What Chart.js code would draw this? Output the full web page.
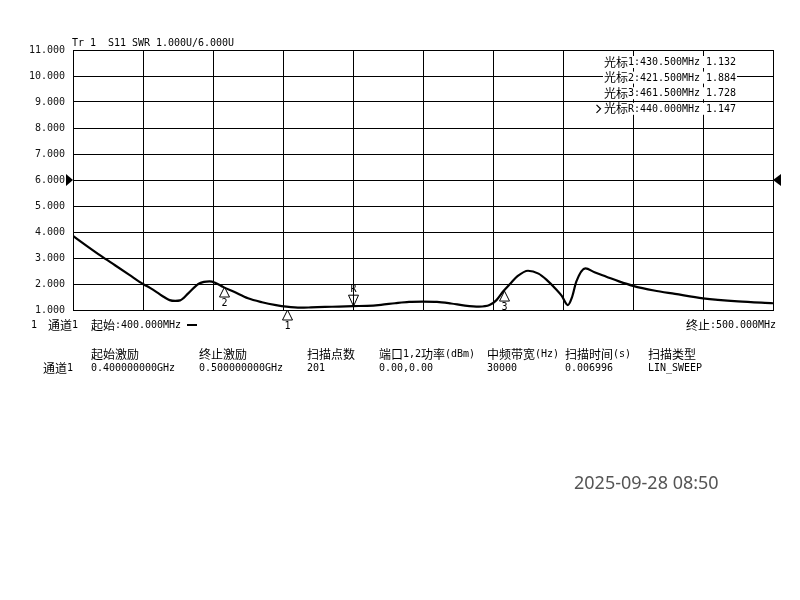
<!DOCTYPE html>
<html>
<head>
<meta charset="utf-8">
<script src="https://cdn.jsdelivr.net/npm/chart.js@4.4.1/dist/chart.umd.min.js"></script>
<style>
  body { margin: 0; background: #fff; }
  canvas { display: block; }
</style>
</head>
<body>
<canvas id="swr" width="800" height="600"></canvas>
<script>
// trace S11 SWR (MHz / SWR)
const freqs = [400, 402, 404, 406, 408, 410, 411, 412, 413, 413.8, 414.6, 415.3, 416.5, 417.9, 418.7, 419.5, 420.3, 421.5,
    423, 425, 427, 429, 430.5, 432.5, 434, 436, 438, 440, 442, 444, 446, 448, 450, 452, 454, 456, 458, 459.5, 460.5,
    461.5, 462.5, 463.5, 465, 466.5, 467.7, 469, 469.8, 470.7, 471.3, 471.9, 473.2, 474.5, 476.2, 478, 480, 483,
    486, 490, 495, 500];
const swr = [3.85, 3.46, 3.08, 2.72, 2.36, 2.0, 1.85, 1.68, 1.50, 1.38, 1.35, 1.37, 1.65, 2.0, 2.08, 2.10, 2.05, 1.88,
    1.70, 1.45, 1.30, 1.19, 1.13, 1.09, 1.10, 1.12, 1.13, 1.15, 1.16, 1.20, 1.26, 1.31, 1.32, 1.31, 1.25, 1.17, 1.13, 1.19, 1.38,
    1.73, 2.02, 2.30, 2.51, 2.40, 2.15, 1.80, 1.55, 1.19, 1.50, 2.09, 2.60, 2.45, 2.28, 2.10, 1.93, 1.75,
    1.62, 1.45, 1.33, 1.26];

// markers
const markerNames = ['1', '2', '3', 'R'];
const markerFreqs = [430.5, 421.5, 461.5, 440.0];
const markerVals = [1.132, 1.884, 1.728, 1.147];
const activeMarker = 'R';

// axis
const xMin = 400, xMax = 500, xStep = 10;
const yMin = 1, yMax = 11, yStep = 1;
const refLevel = 6;

// channel table
const tableHeads = ['起始激励', '终止激励', '扫描点数', '端口1,2功率(dBm)', '中频带宽(Hz)', '扫描时间(s)', '扫描类型'];
const tableVals = ['0.400000000GHz', '0.500000000GHz', '201', '0.00,0.00', '30000', '0.006996', 'LIN_SWEEP'];
const tableCols = [91, 199, 307, 379, 487, 565, 648];

const MONO = '10px "DejaVu Sans Mono"';
const CJK = '12px "Noto Sans CJK SC"';
const isWide = (ch) => /[\u3000-\u9fff\uff00-\uffef]/.test(ch);
const textWidth = (s) => [...s].reduce((w, ch) => w + (isWide(ch) ? 12 : 6), 0);

// instrument style text: 12px full width, 6px half width
function drawMixed(ctx, s, x, y, align, bg) {
    if (align === 'right') x -= textWidth(s);
    if (bg) {
        ctx.fillStyle = '#fff';
        ctx.fillRect(x - 1, y - 6, textWidth(s) + 2, 12);
    }
    ctx.fillStyle = '#000';
    ctx.textAlign = 'left';
    ctx.textBaseline = 'middle';
    for (const ch of s) {
        if (isWide(ch)) {
            ctx.font = CJK;
            ctx.fillText(ch, x, y);
            x += 12;
        } else {
            ctx.font = MONO;
            ctx.fillText(ch, x, y + 0.5);
            x += 6;
        }
    }
}

const overlay = {
    id: 'overlay',
    afterDraw(chart) {
        const ctx = chart.ctx;
        const xs = chart.scales.x, ys = chart.scales.y;
        const area = chart.chartArea;
        ctx.save();

        drawMixed(ctx, 'Tr 1  S11 SWR 1.000U/6.000U', 72, 43);

        // marker readout
        markerNames.forEach((n, i) => {
            const y = 62 + i * 15.6;
            const s = '光标' + n + ':' + markerFreqs[i].toFixed(3) + 'MHz ' + markerVals[i].toFixed(3);
            drawMixed(ctx, s, 604, y, 'left', true);
            if (n === activeMarker) {
                ctx.strokeStyle = '#000';
                ctx.lineWidth = 1.2;
                ctx.beginPath();
                ctx.moveTo(596.5, y - 4);
                ctx.lineTo(600.5, y);
                ctx.lineTo(596.5, y + 4);
                ctx.stroke();
            }
        });

        // reference level arrows
        const ry = ys.getPixelForValue(refLevel);
        ctx.fillStyle = '#000';
        ctx.beginPath();
        ctx.moveTo(area.left - 7, ry - 6);
        ctx.lineTo(area.left, ry);
        ctx.lineTo(area.left - 7, ry + 6);
        ctx.fill();
        ctx.beginPath();
        ctx.moveTo(area.right + 8, ry - 6);
        ctx.lineTo(area.right, ry);
        ctx.lineTo(area.right + 8, ry + 6);
        ctx.fill();

        // marker triangles
        ctx.strokeStyle = '#000';
        ctx.lineWidth = 1;
        markerNames.forEach((n, i) => {
            const px = Math.round(xs.getPixelForValue(markerFreqs[i])) + 0.5;
            const py = ys.getPixelForValue(markerVals[i]);
            ctx.beginPath();
            if (n === 'R') {
                ctx.moveTo(px, py);
                ctx.lineTo(px - 5, py - 11);
                ctx.lineTo(px + 5, py - 11);
                ctx.closePath();
                ctx.moveTo(px, py);
                ctx.lineTo(px, py - 11);
                ctx.stroke();
                drawMixed(ctx, n, px - 3, py - 17);
            } else {
                const top = n === '1' ? area.bottom : py;
                ctx.moveTo(px, top);
                ctx.lineTo(px - 5, top + 10);
                ctx.lineTo(px + 5, top + 10);
                ctx.closePath();
                ctx.stroke();
                drawMixed(ctx, n, px - 3, top + 16);
            }
        });

        // start / stop line
        drawMixed(ctx, '1', 31, 325);
        drawMixed(ctx, '通道1', 48, 325);
        drawMixed(ctx, '起始:' + xMin.toFixed(3) + 'MHz', 91, 325);
        ctx.fillStyle = '#000';
        ctx.fillRect(187, 324, 10, 2);
        drawMixed(ctx, '终止:' + xMax.toFixed(3) + 'MHz', 776, 325, 'right');

        // channel table
        tableHeads.forEach((h, i) => drawMixed(ctx, h, tableCols[i], 354));
        drawMixed(ctx, '通道1', 43, 368);
        tableVals.forEach((v, i) => drawMixed(ctx, v, tableCols[i], 368));

        // time stamp
        ctx.font = '18px "Noto Sans"';
        ctx.fillStyle = '#555';
        ctx.textAlign = 'left';
        ctx.textBaseline = 'middle';
        ctx.fillText('2025-09-28 08:50', 574, 484);

        ctx.restore();
    },
};

new Chart('swr', {
    type: 'line',
    data: {
        datasets: [
            {
                data: freqs.map((f, i) => ({ x: f, y: swr[i] })),
                borderColor: '#000',
                borderWidth: 2.2,
                pointRadius: 0,
                cubicInterpolationMode: 'monotone',
                fill: false,
            },
        ],
    },
    options: {
        responsive: false,
        animation: false,
        layout: { padding: { top: 50, right: 27, bottom: 290, left: 0 } },
        plugins: { legend: { display: false }, tooltip: { enabled: false } },
        scales: {
            x: {
                type: 'linear',
                min: xMin,
                max: xMax,
                ticks: { display: false, stepSize: xStep },
                grid: { color: '#000', drawTicks: false },
                border: { color: '#000' },
                afterFit: (scale) => { scale.height = 0; },
            },
            y: {
                min: yMin,
                max: yMax,
                ticks: {
                    stepSize: yStep,
                    padding: 8,
                    color: '#111',
                    font: { family: 'DejaVu Sans Mono', size: 10 },
                    callback: (v) => v.toFixed(3),
                },
                grid: { color: '#000', drawTicks: false },
                border: { color: '#000' },
                afterFit: (scale) => { scale.width = 73; },
            },
        },
    },
    plugins: [overlay],
});
</script>
</body>
</html>
